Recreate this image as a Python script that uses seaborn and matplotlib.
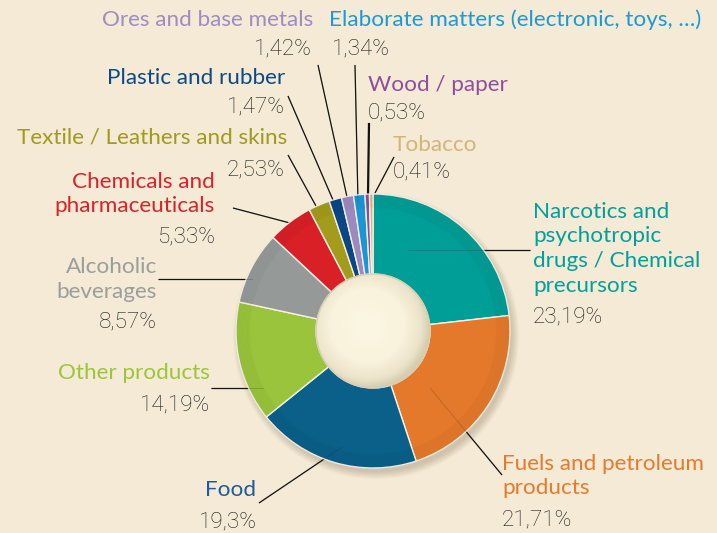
import numpy as np
import matplotlib
matplotlib.use("Agg")
import matplotlib.pyplot as plt
import seaborn as sns
from matplotlib.patches import Circle
from matplotlib.colors import LinearSegmentedColormap

# ---- data ----
categories = ["Narcotics and\npsychotropic\ndrugs / Chemical\nprecursors",
              "Fuels and petroleum\nproducts", "Food", "Other products",
              "Alcoholic\nbeverages", "Chemicals and\npharmaceuticals",
              "Textile / Leathers and skins", "Plastic and rubber",
              "Ores and base metals", "Elaborate matters (electronic, toys, …)",
              "Wood / paper", "Tobacco"]
values = [23.19, 21.71, 19.3, 14.19, 8.57, 5.33, 2.53, 1.47, 1.42, 1.34, 0.53, 0.41]
pct_labels = ["23,19%", "21,71%", "19,3%", "14,19%", "8,57%", "5,33%",
              "2,53%", "1,47%", "1,42%", "1,34%", "0,53%", "0,41%"]
slice_colors = ["#009E96", "#E4792B", "#0B6089", "#9AC43C", "#959A98", "#D92027",
                "#A39B1B", "#0B4785", "#9D89BF", "#1897D4", "#8B4E9F", "#D5B57A"]
text_colors = ["#00A19A", "#E57B2B", "#1D5B9A", "#9DC53C", "#9A9E9C", "#D9232A",
               "#A09A1E", "#0B4A87", "#A08CC0", "#1A9AD6", "#8E4F9C", "#D2B47C"]

W, H = 717, 533
BG = "#F4EAD5"
CX, CY, R, RIN = 373, 331, 137, 57

sns.set_theme(style="white", rc={"figure.facecolor": BG, "axes.facecolor": BG})
plt.rcParams["font.family"] = ["Lato", "DejaVu Sans"]

fig = plt.figure(figsize=(W / 100, H / 100), dpi=100)
ax = fig.add_axes([0, 0, 1, 1])

# soft drop shadow
for k in range(10):
    ax.add_patch(Circle((CX + 3, CY + 5), R + 6 - k * 0.8, color="#7a6a50",
                        alpha=0.03, lw=0, zorder=1))

# leader lines (pixel coords of annotations)
leaders = [((530, 250), (408, 250)), ((502, 475), (430, 388)), ((259, 503), (342, 447)),
           ((211, 388), (263, 388)), ((158, 279), (252, 279)), ((233, 208), (290, 223)),
           ((288, 155), (316, 206)), ((288, 96), (333, 200)), ((318, 65), (347, 197)),
           ((355, 65), (358, 202)), ((369, 123), (368, 195)), ((394, 157), (375, 193))]
for i, (p, q) in enumerate(leaders):
    lw = 1.6 if i == 10 else 0.9
    ax.plot([p[0], q[0]], [p[1], q[1]], color="#111111", lw=lw, zorder=2,
            solid_capstyle="butt")
    ax.plot([p[0], q[0]], [p[1], q[1]], color="#222222", lw=0.7, alpha=0.2, zorder=6)

# donut (visual clockwise from top in inverted y axis)
wedges, _ = ax.pie(values, colors=slice_colors, startangle=-90, counterclock=True,
                   center=(CX, CY), radius=R, frame=True,
                   wedgeprops=dict(width=R - RIN, edgecolor="#f6f1e6", linewidth=1.0))
for w in wedges:
    w.set_zorder(4)
ax.set_xlim(0, W)
ax.set_ylim(H, 0)
ax.set_aspect("equal")
ax.axis("off")

# soft outer-edge darkening of the ring
for k in range(12):
    ax.add_patch(Circle((CX, CY), R - k * 1.2, fill=False, lw=1.3,
                        edgecolor="black", alpha=0.018, zorder=5))

# inner hole with radial gradient
n = 200
yy, xx = np.mgrid[-1:1:n * 1j, -1:1:n * 1j]
rr = np.sqrt((xx + 0.1) ** 2 + (yy + 0.1) ** 2)
cmap = LinearSegmentedColormap.from_list(
    "hole", [(0, "#FCF7E4"), (0.6, "#F9F2DC"), (0.87, "#EBE3C9"), (1, "#D6CDB1")])
im = ax.imshow(np.clip(rr, 0, 1.1), cmap=cmap, vmin=0, vmax=1.1,
               extent=(CX - RIN, CX + RIN, CY + RIN, CY - RIN), zorder=7,
               interpolation="bilinear")
clip = Circle((CX, CY), RIN, transform=ax.transData)
im.set_clip_path(clip)
ax.add_patch(Circle((CX, CY), RIN, fill=False, edgecolor="#d6cdb2", lw=1.0, zorder=8))
ax.set_xlim(0, W)
ax.set_ylim(H, 0)

FS = 16.2
LS = 24.5
PCT_COLOR = "#1c1c1c"
# label layout: (x, first-line y, ha, pct x, pct y)
layout = [(533, 212, "left", 533, 317), (502, 464, "left", 502, 520),
          (256, 490, "right", 257, 522), (210, 373, "right", 210, 405),
          (157, 267, "right", 157, 322), (215, 182, "right", 215, 237),
          (287, 138, "right", 285, 170), (285, 78, "right", 285, 107),
          (313, 20, "right", 312, 49), (329, 20, "left", 332, 49),
          (368, 85, "left", 368, 113), (393, 145, "left", 393, 172)]
for i, (x, y, ha, px, py) in enumerate(layout):
    for j, line in enumerate(categories[i].split("\n")):
        ax.text(x, y + j * LS, line, ha=ha, va="center", fontsize=FS,
                color=text_colors[i], zorder=10)
    ax.text(px, py, pct_labels[i], ha=ha, va="center", fontsize=FS,
            color=PCT_COLOR, family=["Roboto", "DejaVu Sans"], fontweight="light",
            zorder=10)

fig.savefig("out.png", dpi=100, facecolor=BG)
